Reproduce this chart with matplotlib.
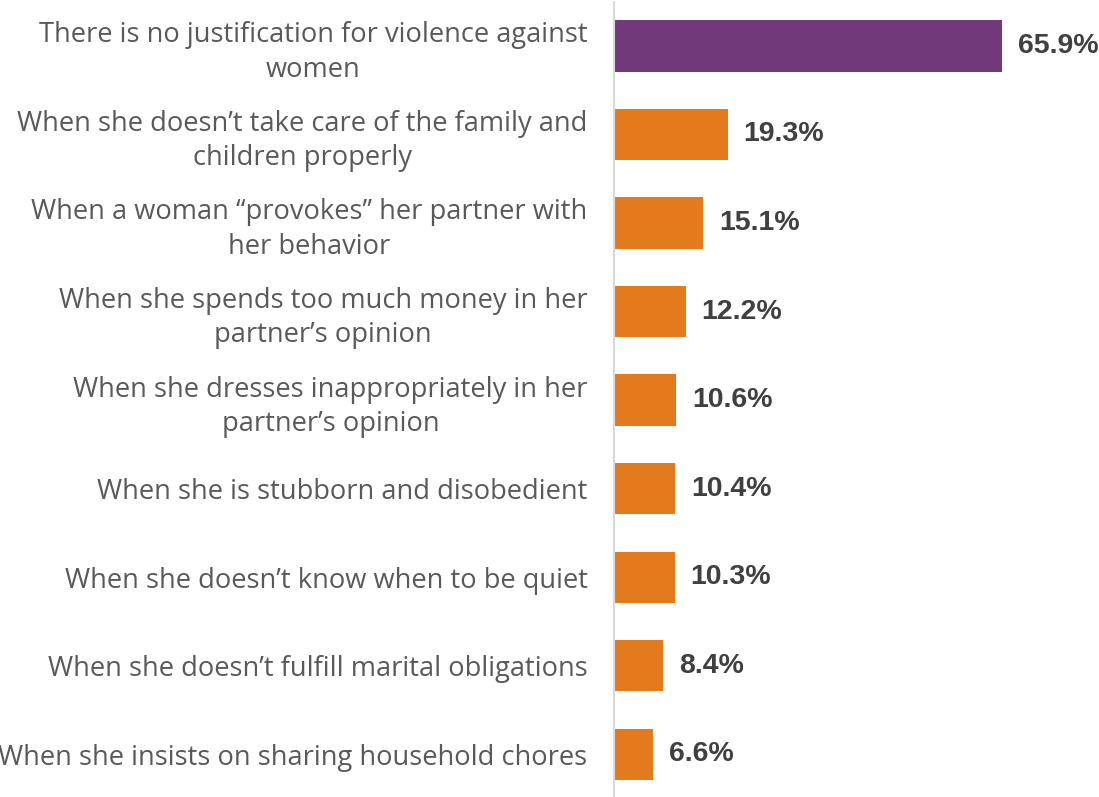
import matplotlib.pyplot as plt

categories = [
    'There is no justification for violence against\nwomen',
    'When she doesn\u2019t take care of the family and\nchildren properly',
    'When a woman \u201cprovokes\u201d her partner with\nher behavior',
    'When she spends too much money in her\npartner\u2019s opinion',
    'When she dresses inappropriately in her\npartner\u2019s opinion',
    'When she is stubborn and disobedient',
    'When she doesn\u2019t know when to be quiet',
    'When she doesn\u2019t fulfill marital obligations',
    'When she insists on sharing household chores',
]
values = [65.9, 19.3, 15.1, 12.2, 10.6, 10.4, 10.3, 8.4, 6.6]
colors = ['#71397A'] + ['#E37A1D'] * 8

fig = plt.figure(figsize=(10.99, 7.97), dpi=100)
ax = fig.add_axes([614 / 1099, -0.002, 485 / 1099, 1])

y = list(range(len(values)))
ax.barh(y, values, height=0.58, color=colors)
ax.set_ylim(8.5, -0.5)
ax.set_xlim(0, 82.4)

ax.set_yticks(y)
ax.set_yticklabels(categories, fontsize=19.6, color='#595959', family='Open Sans',
                   linespacing=1.3)
for lab in ax.get_yticklabels():
    lab.set_multialignment('center')
ax.tick_params(axis='y', length=0, pad=19)
ax.set_xticks([])

for s in ['top', 'right', 'bottom']:
    ax.spines[s].set_visible(False)
ax.spines['left'].set_color('#D9D9D9')
ax.spines['left'].set_linewidth(1.5)

for yi, v in zip(y, values):
    ax.text(v + 2.7, yi, f'{v:.1f}%', va='center', ha='left', fontsize=20.5,
            fontweight='bold', color='#404040', family='Liberation Sans')

fig.savefig('out.png', dpi=100)
